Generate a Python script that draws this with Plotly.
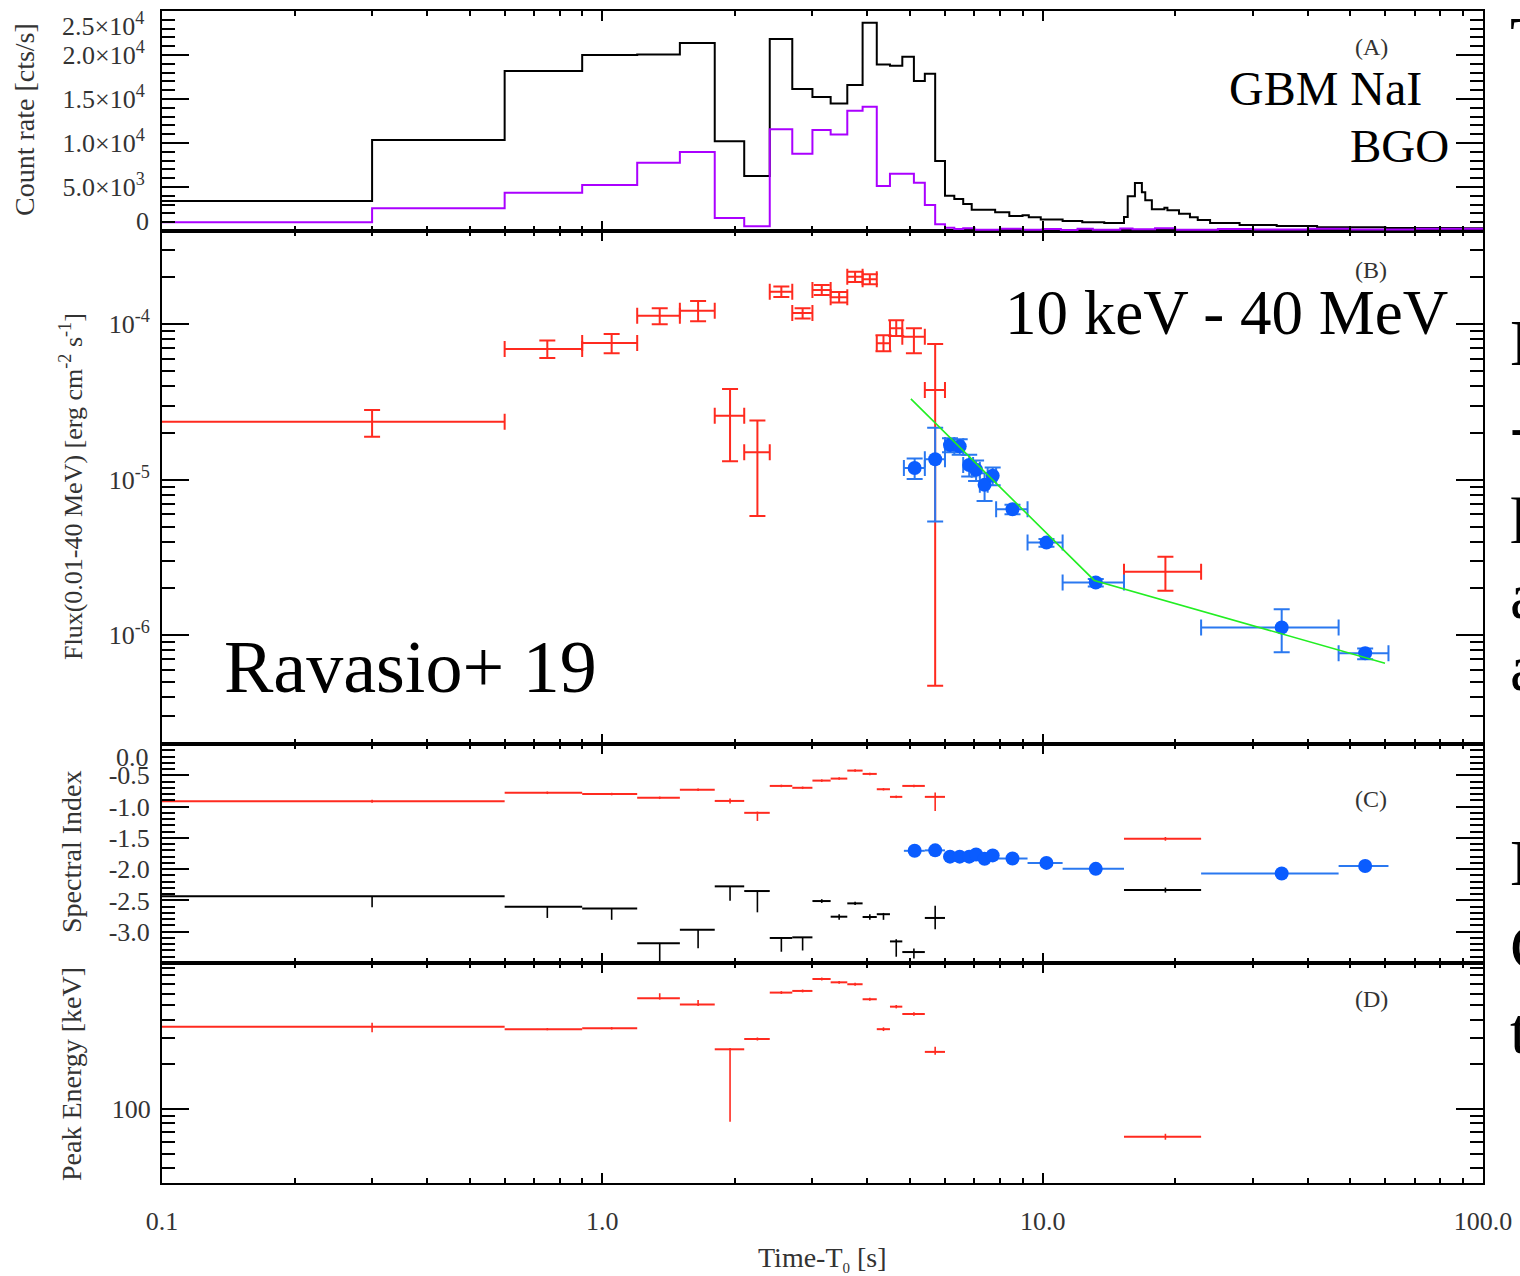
import numpy as np
import plotly.graph_objects as go

# ---------------- Panel A: count-rate light curves ----------------
nai_edges = [0.05, 0.3, 0.6, 0.9, 1.2, 1.5, 1.8, 2.1, 2.4, 2.7, 3.0, 3.3, 3.6, 3.9, 4.2, 4.5,
             4.8, 5.1, 5.4, 5.7, 6.0, 6.3, 6.6, 6.9, 7.8, 8.4, 9.0, 9.3, 9.9, 11.1, 12.3, 13.8,
             15.3, 15.6, 16.2, 16.8, 17.1, 17.7, 18.9, 19.2, 20.4, 21.6, 22.5, 24.0, 28.0,
             34.0, 42.0, 60.0, 90.0, 100.0]
nai_rate = [3400, 10340, 18180, 20000, 20070, 21360, 10190, 6250, 21820, 16130, 15220, 14500,
            16590, 23670, 18930, 18780, 19800, 17040, 17870, 7950, 4000, 3650, 3070, 2420,
            2120, 1700, 1800, 1560, 1300, 1150, 1000, 900, 1600, 3950, 5450, 4400, 3500,
            2460, 2650, 2350, 1950, 1550, 1250, 900, 680, 560, 440, 340, 300]

bgo_edges = [0.05, 0.3, 0.6, 0.9, 1.2, 1.5, 1.8, 2.1, 2.4, 2.7, 3.0, 3.3, 3.6, 3.9, 4.2, 4.5,
             4.8, 5.1, 5.4, 5.7, 6.0, 6.3, 6.6, 7.0, 8.0, 9.0, 10.0, 11.0, 12.0, 13.0, 15.0,
             16.0, 18.0, 20.0, 25.0, 30.0, 40.0, 50.0, 70.0, 100.0]
bgo_rate = [1000, 2580, 4350, 5230, 7760, 8970, 1480, 530, 11550, 8780, 11470, 10980, 13670,
            14120, 5110, 6510, 6510, 5490, 2950, 760, 380, 230, 320, 150, 250, 140, 230, 120,
            260, 150, 280, 200, 300, 150, 220, 170, 260, 180, 250]

# ---------------- GBM time-resolved spectral bins (red / black) ----------------
gbm_lo = [0.0, 0.6, 0.9, 1.2, 1.5, 1.8, 2.1, 2.4, 2.7, 3.0, 3.3, 3.6, 3.9, 4.2, 4.5, 4.8, 5.4, 15.3]
gbm_hi = [0.6, 0.9, 1.2, 1.5, 1.8, 2.1, 2.4, 2.7, 3.0, 3.3, 3.6, 3.9, 4.2, 4.5, 4.8, 5.4, 6.0, 22.9]
gbm_t = [0.3, 0.75, 1.05, 1.35, 1.65, 1.95, 2.25, 2.55, 2.85, 3.15, 3.45, 3.75, 4.05, 4.35,
         4.65, 5.1, 5.7, 19.0]

gbm_flux = [2.36e-5, 6.94e-5, 7.59e-5, 1.135e-4, 1.22e-4, 2.58e-5, 1.5e-5, 1.62e-4, 1.18e-4,
            1.66e-4, 1.49e-4, 2.02e-4, 1.95e-4, 7.55e-5, 9.42e-5, 8.32e-5, 3.78e-5, 2.56e-6]
gbm_flux_lo = [1.89e-5, 6.07e-5, 6.5e-5, 1.0e-4, 1.045e-4, 1.315e-5, 5.85e-6, 1.5e-4, 1.09e-4,
               1.54e-4, 1.38e-4, 1.87e-4, 1.81e-4, 6.7e-5, 8.4e-5, 6.52e-5, 4.72e-7, 1.93e-6]
gbm_flux_hi = [2.81e-5, 7.85e-5, 8.67e-5, 1.27e-4, 1.41e-4, 3.84e-5, 2.4e-5, 1.75e-4, 1.27e-4,
               1.79e-4, 1.61e-4, 2.18e-4, 2.1e-4, 8.5e-5, 1.06e-4, 9.42e-5, 7.47e-5, 3.2e-6]

gbm_alpha = [-0.914, -0.78, -0.80, -0.86, -0.73, -0.91, -1.10, -0.67, -0.70, -0.585, -0.553,
             -0.425, -0.478, -0.723, -0.845, -0.67, -0.845, -1.516]
gbm_alpha_lo = [-0.94, -0.80, -0.82, -0.88, -0.75, -0.95, -1.23, -0.69, -0.72, -0.605, -0.573,
                -0.445, -0.498, -0.743, -0.865, -0.69, -1.07, -1.546]
gbm_alpha_hi = [-0.89, -0.76, -0.78, -0.84, -0.71, -0.87, -1.08, -0.65, -0.68, -0.565, -0.533,
                -0.405, -0.458, -0.703, -0.825, -0.65, -0.776, -1.486]

gbm_beta = [-2.435, -2.60, -2.63, -3.185, -2.97, -2.275, -2.35, -3.10, -3.09, -2.51, -2.76,
            -2.547, -2.765, -2.72, -3.155, -3.325, -2.78, -2.335]
gbm_beta_lo = [-2.61, -2.78, -2.81, -3.60, -3.265, -2.505, -2.69, -3.32, -3.30, -2.54, -2.81,
               -2.575, -2.81, -2.81, -3.40, -3.43, -2.96, -2.375]
gbm_beta_hi = [-2.43, -2.595, -2.625, -3.18, -2.965, -2.27, -2.345, -3.095, -3.085, -2.48,
               -2.72, -2.52, -2.72, -2.70, -3.12, -3.27, -2.585, -2.295]

gbm_ep = [359, 346, 351, 560, 507, 253, 297, 611, 627, 755, 717, 696, 551, 346, 491, 438, 243, 65]
gbm_ep_lo = [330, 340, 344, 548, 496, 82, 290, 598, 613, 738, 702, 680, 539, 336, 478, 426, 232, 62]
gbm_ep_hi = [382, 352, 358, 605, 545, 258, 304, 625, 641, 772, 733, 712, 563, 356, 504, 450, 263, 68]

# ---------------- LAT-like blue points ----------------
lat_lo = [4.84, 5.4, 6.0, 6.3, 6.6, 6.9, 7.2, 7.5, 7.84, 9.24, 11.1, 22.9, 47.0]
lat_hi = [5.4, 6.0, 6.3, 6.6, 6.95, 7.2, 7.5, 7.84, 9.24, 11.1, 15.3, 47.0, 61.0]
lat_t = [5.12, 5.7, 6.16, 6.48, 6.81, 7.06, 7.38, 7.70, 8.54, 10.2, 13.2, 34.9, 54.0]
lat_flux = [1.19e-5, 1.355e-5, 1.67e-5, 1.64e-5, 1.245e-5, 1.16e-5, 9.27e-6, 1.06e-5, 6.46e-6,
            3.94e-6, 2.18e-6, 1.12e-6, 7.66e-7]
lat_flux_lo = [1.01e-5, 5.38e-6, 1.5e-5, 1.45e-5, 1.05e-5, 9.8e-6, 7.3e-6, 9.2e-6, 6.0e-6,
               3.7e-6, 2.06e-6, 7.78e-7, 7.0e-7]
lat_flux_hi = [1.37e-5, 2.16e-5, 1.85e-5, 1.82e-5, 1.45e-5, 1.33e-5, 1.1e-5, 1.2e-5, 6.9e-6,
               4.15e-6, 2.3e-6, 1.47e-6, 8.2e-7]
lat_index = [-1.707, -1.70, -1.80, -1.80, -1.80, -1.765, -1.835, -1.78, -1.83, -1.90, -1.995,
             -2.07, -1.95]

# broken power-law fit (green)
fit_t = [5.02, 13.1, 59.9]
fit_flux = [3.31e-5, 2.25e-6, 6.6e-7]

# tick labels
x_ticks = [0.1, 1, 10, 100]
x_ticktext = ['0.1', '1.0', '10.0', '100.0']
a_ticks = [0, 5000, 10000, 15000, 20000, 25000]
a_ticktext = ['0', '5.0×10<sup>3</sup>', '1.0×10<sup>4</sup>', '1.5×10<sup>4</sup>',
              '2.0×10<sup>4</sup>', '2.5×10<sup>4</sup>']
b_ticks = [1e-6, 1e-5, 1e-4]
b_ticktext = ['10<sup>-6</sup>', '10<sup>-5</sup>', '10<sup>-4</sup>']
c_ticks = [0.0, -0.5, -1.0, -1.5, -2.0, -2.5, -3.0]
c_ticktext = ['0.0', '-0.5', '-1.0', '-1.5', '-2.0', '-2.5', '-3.0']
d_ticks = [100]
d_ticktext = ['100']

# ---------------- styling / geometry ----------------
W, H = 1520, 1276
ML, MR, MT, MB = 162, 37, 11, 93
PW, PH = W - ML - MR, H - MT - MB


def xp(px):
    return (px - ML) / PW


def yp(py):
    return (H - MB - py) / PH


RED = '#ff2a1f'
BLUE = '#0a5cff'
BLUE_ERR = '#2a78f0'
PURPLE = '#aa00ff'
GREEN = '#22ee22'
FONT = 'Liberation Serif'
LABEL = '#333333'

xminor = [m * d for d in (0.1, 1, 10) for m in range(2, 10)]
bminor = ([m * 1e-7 for m in range(2, 10)] + [m * 1e-6 for m in range(2, 10)] +
          [m * 1e-5 for m in range(2, 10)] + [m * 1e-4 for m in range(2, 5)])
dminor = [40, 50, 60, 70, 80, 90, 200, 300, 400, 500, 600, 700, 800, 900]


def errs(c, lo, hi, floor=None):
    c = np.asarray(c, float)
    lo = np.asarray(lo, float)
    if floor is not None:
        lo = np.maximum(lo, floor)
    hi = np.asarray(hi, float)
    return (hi - c).tolist(), (c - lo).tolist()


fig = go.Figure()

# Panel A
fig.add_trace(go.Scatter(x=nai_edges, y=nai_rate + [nai_rate[-1]], mode='lines',
                         line=dict(color='black', width=2, shape='hv'),
                         xaxis='x4', yaxis='y4'))
fig.add_trace(go.Scatter(x=bgo_edges, y=bgo_rate + [bgo_rate[-1]], mode='lines',
                         line=dict(color=PURPLE, width=2, shape='hv'),
                         xaxis='x4', yaxis='y4'))

# Panel B
ex_p, ex_m = errs(gbm_t, gbm_lo, gbm_hi, floor=1e-3)
ey_p, ey_m = errs(gbm_flux, gbm_flux_lo, gbm_flux_hi)
fig.add_trace(go.Scatter(x=gbm_t, y=gbm_flux, mode='markers',
                         marker=dict(size=2, color='rgba(0,0,0,0)'),
                         error_x=dict(type='data', symmetric=False, array=ex_p, arrayminus=ex_m,
                                      color=RED, thickness=2, width=8),
                         error_y=dict(type='data', symmetric=False, array=ey_p, arrayminus=ey_m,
                                      color=RED, thickness=2, width=8),
                         xaxis='x3', yaxis='y3'))
lx_p, lx_m = errs(lat_t, lat_lo, lat_hi, floor=1e-3)
ly_p, ly_m = errs(lat_flux, lat_flux_lo, lat_flux_hi)
fig.add_trace(go.Scatter(x=lat_t, y=lat_flux, mode='markers',
                         marker=dict(size=14, color=BLUE),
                         error_x=dict(type='data', symmetric=False, array=lx_p, arrayminus=lx_m,
                                      color=BLUE_ERR, thickness=2, width=8),
                         error_y=dict(type='data', symmetric=False, array=ly_p, arrayminus=ly_m,
                                      color=BLUE_ERR, thickness=2, width=8),
                         xaxis='x3', yaxis='y3'))
fig.add_trace(go.Scatter(x=fit_t, y=fit_flux, mode='lines',
                         line=dict(color=GREEN, width=1.6), xaxis='x3', yaxis='y3'))

# Panel C
ay_p, ay_m = errs(gbm_alpha, gbm_alpha_lo, gbm_alpha_hi)
fig.add_trace(go.Scatter(x=gbm_t, y=gbm_alpha, mode='markers',
                         marker=dict(size=2, color='rgba(0,0,0,0)'),
                         error_x=dict(type='data', symmetric=False, array=ex_p, arrayminus=ex_m,
                                      color=RED, thickness=2, width=0),
                         error_y=dict(type='data', symmetric=False, array=ay_p, arrayminus=ay_m,
                                      color=RED, thickness=1.6, width=0),
                         xaxis='x2', yaxis='y2'))
by_p, by_m = errs(gbm_beta, gbm_beta_lo, gbm_beta_hi)
fig.add_trace(go.Scatter(x=gbm_t, y=gbm_beta, mode='markers',
                         marker=dict(size=2, color='rgba(0,0,0,0)'),
                         error_x=dict(type='data', symmetric=False, array=ex_p, arrayminus=ex_m,
                                      color='black', thickness=2, width=0),
                         error_y=dict(type='data', symmetric=False, array=by_p, arrayminus=by_m,
                                      color='black', thickness=1.6, width=0),
                         xaxis='x2', yaxis='y2'))
fig.add_trace(go.Scatter(x=lat_t, y=lat_index, mode='markers',
                         marker=dict(size=14, color=BLUE),
                         error_x=dict(type='data', symmetric=False, array=lx_p, arrayminus=lx_m,
                                      color=BLUE_ERR, thickness=2, width=0),
                         xaxis='x2', yaxis='y2'))

# Panel D
dy_p, dy_m = errs(gbm_ep, gbm_ep_lo, gbm_ep_hi)
fig.add_trace(go.Scatter(x=gbm_t, y=gbm_ep, mode='markers',
                         marker=dict(size=2, color='rgba(0,0,0,0)'),
                         error_x=dict(type='data', symmetric=False, array=ex_p, arrayminus=ex_m,
                                      color=RED, thickness=2, width=0),
                         error_y=dict(type='data', symmetric=False, array=dy_p, arrayminus=dy_m,
                                      color=RED, thickness=1.6, width=0),
                         xaxis='x', yaxis='y'))

tickfont = dict(family=FONT, size=26, color=LABEL)
common = dict(showline=True, linecolor='black', linewidth=2, mirror='allticks', ticks='inside',
              tickcolor='black', tickwidth=2, showgrid=False, zeroline=False, tickfont=tickfont,
              automargin=False)


def xaxis(anchor, labels):
    d = dict(common)
    d.update(type='log', range=[-1, 2], tickvals=x_ticks, ticktext=x_ticktext, ticklen=10,
             domain=[0, 1], anchor=anchor, showticklabels=labels, ticklabelstandoff=14,
             minor=dict(ticks='inside', ticklen=5, tickvals=xminor, tickcolor='black',
                        tickwidth=1.5))
    return d


ydomA = [yp(231), 1]
ydomB = [yp(744), yp(231)]
ydomC = [yp(963), yp(744)]
ydomD = [0, yp(963)]

# edge labels of panels A and C are drawn as annotations (shifted inward like the original)
a_text_axis = [''] + a_ticktext[1:-1] + ['']
c_text_axis = [''] + c_ticktext[1:]

yA = dict(common)
yA.update(domain=ydomA, anchor='x4', range=[0, 25000], tickvals=a_ticks, ticktext=a_text_axis,
          ticklen=27, ticklabelstandoff=10,
          minor=dict(ticks='inside', ticklen=13, dtick=1000, tickcolor='black', tickwidth=1.5))
yB = dict(common)
yB.update(domain=ydomB, anchor='x3', type='log', range=[-6.70, -3.40], tickvals=b_ticks,
          ticktext=b_ticktext, ticklen=27, ticklabelstandoff=5,
          minor=dict(ticks='inside', ticklen=13, tickvals=bminor, tickcolor='black',
                     tickwidth=1.5))
yC = dict(common)
yC.update(domain=ydomC, anchor='x2', range=[-3.5, 0.0], tickvals=c_ticks, ticktext=c_text_axis,
          ticklen=27, ticklabelstandoff=5,
          minor=dict(ticks='inside', ticklen=13, dtick=0.1, tick0=0, tickcolor='black',
                     tickwidth=1.5))
yD = dict(common)
yD.update(domain=ydomD, anchor='x', type='log', range=[1.5, 2.986], tickvals=d_ticks,
          ticktext=d_ticktext, ticklen=27, ticklabelstandoff=4,
          minor=dict(ticks='inside', ticklen=13, tickvals=dminor, tickcolor='black',
                     tickwidth=1.5))

x1 = xaxis('y', True)
x2 = xaxis('y2', False)
x2['matches'] = 'x'
x3 = xaxis('y3', False)
x3['matches'] = 'x'
x4 = xaxis('y4', False)
x4['matches'] = 'x'

anns = []


def ann(text, px, py, size, xanchor='center', color='black', angle=0):
    anns.append(dict(text=text, x=xp(px), y=yp(py), xref='paper', yref='paper',
                     xanchor=xanchor, yanchor='middle', showarrow=False, textangle=angle,
                     font=dict(family=FONT, size=size, color=color)))


# edge tick labels
ann(a_ticktext[-1], 146, 25, 26, xanchor='right', color=LABEL)
ann(a_ticktext[0], 151, 221, 26, xanchor='right', color=LABEL)
ann(c_ticktext[0], 151, 757, 26, xanchor='right', color=LABEL)

# panel texts
ann('(A)', 1371, 47, 24, color=LABEL)
ann('GBM NaI', 1424, 88, 48, xanchor='right')
ann('BGO', 1451, 146, 47, xanchor='right')
ann('(B)', 1371, 270, 24, color=LABEL)
ann('10 keV - 40 MeV', 1226, 313, 63)
ann('Ravasio+ 19', 410, 667, 74)
ann('(C)', 1371, 799, 24, color=LABEL)
ann('(D)', 1371, 999, 24, color=LABEL)

# axis titles
ann('Count rate [cts/s]', 24, 120, 28, color=LABEL, angle=-90)
ann('Flux(0.01-40 MeV) [erg cm<sup>-2</sup> s<sup>-1</sup>]', 71, 487, 26, color=LABEL, angle=-90)
ann('Spectral Index', 71, 852, 28, color=LABEL, angle=-90)
ann('Peak Energy [keV]', 71, 1074, 28, color=LABEL, angle=-90)
ann('Time-T<sub><span style="font-size:15px">0</span></sub> [s]', 822, 1259, 28, color=LABEL)

# clipped slide text at the right edge
for ch, py in [('T', 40), ('D', 342), ('-', 425), ('l', 520), ('a', 595), ('a', 667),
               ('E', 862), ('C', 946), ('t', 1030)]:
    ann(ch, 1508, py, 66, xanchor='left')

fig.update_layout(width=W, height=H, margin=dict(l=ML, r=MR, t=MT, b=MB, pad=0),
                  paper_bgcolor='white', plot_bgcolor='white', showlegend=False,
                  xaxis=x1, xaxis2=x2, xaxis3=x3, xaxis4=x4,
                  yaxis=yD, yaxis2=yC, yaxis3=yB, yaxis4=yA, annotations=anns)

fig.write_html('out.html')
